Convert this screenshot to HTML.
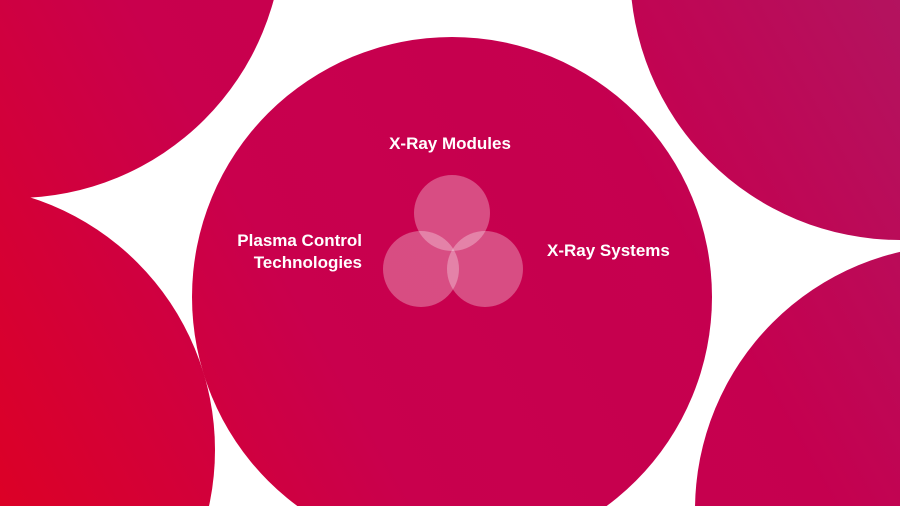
<!DOCTYPE html>
<html><head><meta charset="utf-8"><style>
html,body{margin:0;padding:0;background:#fff;width:900px;height:506px;overflow:hidden;}
svg{display:block;}
text{font-family:"Liberation Sans",sans-serif;font-weight:bold;font-size:17px;fill:#fff;}
</style></head><body>
<svg width="900" height="506" viewBox="0 0 900 506">
<defs>
<linearGradient id="g" gradientUnits="userSpaceOnUse" x1="900" y1="0" x2="0" y2="506">
<stop offset="0" stop-color="#b3135f"/>
<stop offset="0.3" stop-color="#c5004f"/>
<stop offset="0.65" stop-color="#c9004d"/>
<stop offset="1" stop-color="#dc0026"/>
</linearGradient>
<clipPath id="c"><rect width="900" height="506"/></clipPath>
</defs>
<rect width="900" height="506" fill="#fff"/>
<g clip-path="url(#c)">
<circle cx="15" cy="-70" r="268" fill="url(#g)"/>
<circle cx="-50" cy="450" r="265" fill="url(#g)"/>
<circle cx="900" cy="-30" r="270" fill="url(#g)"/>
<circle cx="960" cy="510" r="265" fill="url(#g)"/>
<circle cx="452" cy="297" r="260" fill="url(#g)"/>
</g>
<g fill="#fff" fill-opacity="0.3">
<circle cx="452" cy="213" r="38"/>
<circle cx="421" cy="269" r="38"/>
<circle cx="485" cy="269" r="38"/>
</g>
<text x="450" y="149" text-anchor="middle">X-Ray Modules</text>
<text x="362" y="246" text-anchor="end">Plasma Control</text>
<text x="362" y="268" text-anchor="end">Technologies</text>
<text x="547" y="256" text-anchor="start">X-Ray Systems</text>
</svg>
</body></html>
